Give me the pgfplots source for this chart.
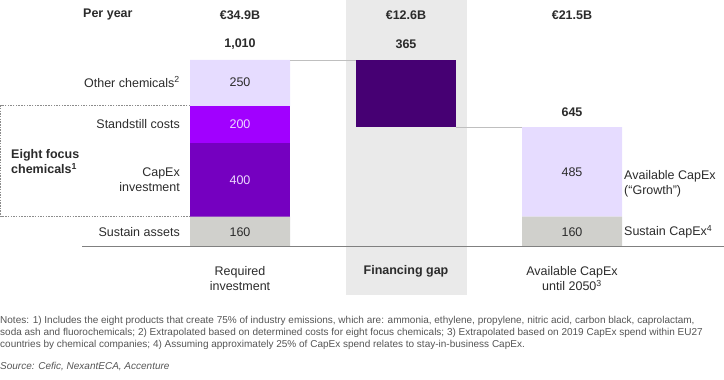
\documentclass[border=0pt]{standalone}
\usepackage{fontspec}
\setmainfont{Liberation Sans}
\usepackage{pgfplots}
\pgfplotsset{compat=1.18}
\definecolor{lav}{HTML}{E6DCFF}
\definecolor{standc}{HTML}{A100FF}
\definecolor{capexc}{HTML}{7500C0}
\definecolor{gapc}{HTML}{460073}
\definecolor{sustc}{HTML}{D0D0CC}
\definecolor{gapbg}{HTML}{EAEAEA}
\definecolor{txt}{HTML}{2B2B2B}
\definecolor{notec}{HTML}{555555}
\definecolor{inlab}{HTML}{EDD9FF}
\newcommand\lab{\fontsize{12.5}{15}\selectfont}
\newcommand\notef{\fontsize{10}{12}\selectfont}
\begin{document}
\begin{tikzpicture}
\useasboundingbox (0,0) rectangle (724pt,380pt);
\begin{scope}[x=1pt,y=-1pt,shift={(0pt,380pt)}]
  \fill[gapbg] (346,0) rectangle (466.5,295);
\end{scope}
\begin{axis}[at={(0pt,0pt)}, anchor=south west, scale only axis,
  width=724pt, height=380pt, xmin=0, xmax=724, ymin=-727.6, ymax=1335.8,
  hide axis, clip=false, ybar stacked, bar width=100]
  \addplot[draw=none, fill=none] coordinates {(240,0) (406,645) (572,0)};
  \addplot[draw=none, fill=sustc] coordinates {(240,160) (406,0) (572,160)};
  \addplot[draw=none, fill=capexc] coordinates {(240,400) (406,0) (572,0)};
  \addplot[draw=none, fill=standc] coordinates {(240,200) (406,0) (572,0)};
  \addplot[draw=none, fill=lav] coordinates {(240,250) (406,0) (572,485)};
  \addplot[draw=none, fill=gapc] coordinates {(240,0) (406,365) (572,0)};
\end{axis}
\begin{scope}[x=1pt,y=-1pt,shift={(0pt,380pt)}]
  % value labels
  \node[txt, font=\lab, inner sep=0] at (240,232) {160};
  \node[inlab, font=\lab, inner sep=0] at (240,180) {400};
  \node[inlab, font=\lab, inner sep=0] at (240,124.5) {200};
  \node[txt, font=\lab, inner sep=0] at (240,82) {250};
  \node[txt, font=\lab, inner sep=0] at (572,232) {160};
  \node[txt, font=\lab, inner sep=0] at (572,172.5) {485};
  % connectors and baseline
  \draw[color=black!25, line width=0.8pt] (290,60) -- (356,60);
  \draw[color=black!25, line width=0.8pt] (456,127.2) -- (522,127.2);
  \draw[color=black!50, line width=0.8pt] (82,246) -- (724,246);
  % dashed box
  \draw[color=black!45, line width=0.6pt, dash pattern=on 1.5pt off 1.2pt]
     (190,105.7) -- (0.5,105.7) -- (0.5,216.7) -- (190,216.7);
  % header row
  \node[txt, font=\lab\bfseries, anchor=west, inner sep=0] at (83,15) {Per year};
  \node[txt, font=\lab\bfseries, inner sep=0] at (240,15) {€34.9B};
  \node[txt, font=\lab\bfseries, inner sep=0] at (406,15) {€12.6B};
  \node[txt, font=\lab\bfseries, inner sep=0] at (572,15) {€21.5B};
  % totals
  \node[txt, font=\lab\bfseries, inner sep=0] at (240,44) {1,010};
  \node[txt, font=\lab\bfseries, inner sep=0] at (406,44) {365};
  \node[txt, font=\lab\bfseries, inner sep=0] at (572,112) {645};
  % left labels
  \node[txt, font=\lab, anchor=east, inner sep=0] at (180,82) {Other chemicals\textsuperscript{2}};
  \node[txt, font=\lab, anchor=east, inner sep=0] at (180,124.5) {Standstill costs};
  \node[txt, font=\lab, anchor=east, inner sep=0, align=right] at (180,180) {CapEx\\investment};
  \node[txt, font=\lab, anchor=east, inner sep=0] at (180,232) {Sustain assets};
  \node[txt, font=\lab\bfseries, anchor=west, inner sep=0, align=left] at (11,162) {Eight focus\\chemicals\textsuperscript{1}};
  % right labels
  \node[txt, font=\lab, anchor=west, inner sep=0, align=left] at (624,184) {Available CapEx\\(“Growth”)};
  \node[txt, font=\lab, anchor=west, inner sep=0] at (624,232) {Sustain CapEx\textsuperscript{4}};
  % category labels
  \node[txt, font=\lab, inner sep=0, align=center] at (240,278.5) {Required\\investment};
  \node[txt, font=\lab\bfseries, inner sep=0] at (406,271.5) {Financing gap};
  \node[txt, font=\lab, inner sep=0, align=center] at (572,278.5) {Available CapEx\\until 2050\textsuperscript{3}};
  % notes
  \begin{scope}[every node/.style={notec, font=\notef, anchor=west, inner sep=0}]
  \node at (0,320.7) {Notes: 1) Includes the eight products that create 75\% of industry emissions, which are: ammonia, ethylene, propylene, nitric acid, carbon black, caprolactam,};
  \node at (0,332.7) {soda ash and fluorochemicals; 2) Extrapolated based on determined costs for eight focus chemicals; 3) Extrapolated based on 2019 CapEx spend within EU27};
  \node at (0,344.7) {countries by chemical companies; 4) Assuming approximately 25\% of CapEx spend relates to stay-in-business CapEx.};
  \node[font=\notef\itshape] at (0,366.5) {Source: Cefic, NexantECA, Accenture};
  \end{scope}
\end{scope}
\end{tikzpicture}
\end{document}
